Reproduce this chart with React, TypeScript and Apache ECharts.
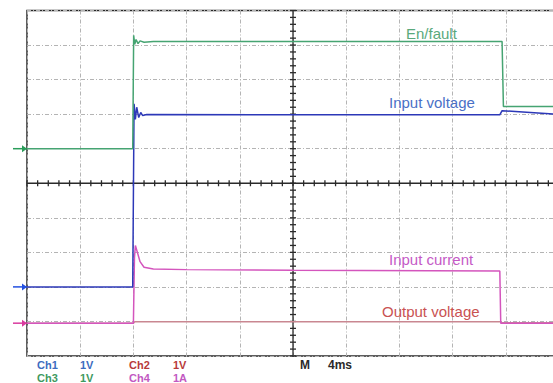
import { useEffect, useRef } from "react";
import * as echarts from "echarts";

// Horizontal time base: 4 ms/div, ten divisions centred on the trigger point
const TIME_MIN = -20;
const TIME_MAX = 20;
const TIME_PER_DIV = 4;
// Vertical graticule: ten divisions, 0 at screen centre
const DIV_MIN = -5;
const DIV_MAX = 5;

// Channel setup: scale per division and ground reference (divisions from centre)
const CH1 = { label: "Ch1", scale: "1V", perDiv: 1, ground: -3.0 };
const CH2 = { label: "Ch2", scale: "1V", perDiv: 1, ground: -4.05 };
const CH3 = { label: "Ch3", scale: "1V", perDiv: 1, ground: 1.0 };
const CH4 = { label: "Ch4", scale: "1A", perDiv: 1, ground: -4.05 };

// Ch3 – En/fault (V)
const EN_FAULT_T = [-20, -12.05, -11.98, -11.9, -11.8, -11.65, -11.5, -11.2, -10.5, 15.72, 15.82, 20];
const EN_FAULT_V = [0, 0, 3.28, 3.02, 3.16, 3.04, 3.12, 3.08, 3.1, 3.1, 1.22, 1.22];

// Ch1 – Input voltage (V)
const INPUT_V_T = [-20, -12.05, -11.95, -11.85, -11.75, -11.6, -11.45, -11.3, -11.0, 0, 15.55, 15.72, 17, 20];
const INPUT_V_V = [0, 0, 5.3, 4.85, 5.2, 4.9, 5.05, 4.96, 4.99, 4.98, 4.98, 5.1, 5.07, 4.99];

// Ch4 – Input current (A)
const INPUT_I_T = [-20, -12.0, -11.92, -11.85, -11.7, -11.5, -11.2, -10.5, -8, 0, 15.55, 15.62, 20];
const INPUT_I_A = [0, 0, 1.9, 2.25, 2.05, 1.78, 1.62, 1.57, 1.55, 1.53, 1.51, 0, 0];

// Ch2 – Output voltage (V)
const OUTPUT_V_T = [-20, -12.0, -11.9, 15.6, 15.7, 20];
const OUTPUT_V_V = [0, 0, 0.04, 0.04, 0.01, 0.01];

const FONT = '"Liberation Sans", Arial, sans-serif';

const COLORS = {
  ch1: "#2c38b8",
  ch2: "#c98791",
  ch3: "#46a472",
  ch4: "#d455bd",
  ch1Text: "#4a70c6",
  ch2Text: "#c95252",
  ch3Text: "#5aa97c",
  ch4Text: "#c55ac6",
  ch1Legend: "#3d6cc0",
  ch2Legend: "#b83a3a",
  ch3Legend: "#3f9a5f",
  ch4Legend: "#c259c2",
  grid: "#b4b4b4",
  frame: "#2a2a2a",
};

type Channel = { perDiv: number; ground: number };

const toScreen = (ch: Channel, t: number[], v: number[]) =>
  t.map((time, i) => [time, ch.ground + v[i] / ch.perDiv]);

function traceSeries(name: string, data: number[][], color: string, z: number) {
  return {
    name,
    type: "line",
    data,
    showSymbol: false,
    smooth: false,
    z,
    lineStyle: { color, width: 1.5 },
    itemStyle: { color },
  };
}

function label(text: string, x: number, y: number, fill: string, size: number, bold = false) {
  return {
    type: "text",
    x,
    y,
    z: 10,
    style: {
      text,
      fill,
      font: `${bold ? "bold " : ""}${size}px ${FONT}`,
      verticalAlign: "middle",
      textVerticalAlign: "middle",
    },
  };
}

export default function App() {
  const ref = useRef<HTMLDivElement>(null);

  useEffect(() => {
    document.body.style.margin = "0";
    if (!ref.current) return;
    const chart = echarts.init(ref.current, undefined, { renderer: "svg" });

    const splitLine = {
      show: true,
      lineStyle: { color: COLORS.grid, width: 1, type: [4, 2, 1, 2] },
    };

    // Centre cross with fine ticks, plus ground markers on the left edge
    const graticule = {
      type: "custom",
      z: 1,
      silent: true,
      clip: false,
      data: [[0, 0]],
      encode: { x: 0, y: 0 },
      renderItem: (_params: any, api: any) => {
        const children: any[] = [];
        const c = api.coord([0, 0]);
        const l = api.coord([TIME_MIN, 0]);
        const r = api.coord([TIME_MAX, 0]);
        const t = api.coord([0, DIV_MAX]);
        const b = api.coord([0, DIV_MIN]);
        const stroke = { stroke: COLORS.frame, lineWidth: 1.3 };
        children.push({ type: "line", shape: { x1: l[0], y1: c[1], x2: r[0], y2: c[1] }, style: stroke });
        children.push({ type: "line", shape: { x1: c[0], y1: t[1], x2: c[0], y2: b[1] }, style: stroke });
        const tickStep = TIME_PER_DIV / 5;
        for (let k = Math.ceil(TIME_MIN / tickStep); k <= Math.floor(TIME_MAX / tickStep); k++) {
          const p = api.coord([k * tickStep, 0]);
          children.push({ type: "line", shape: { x1: p[0], y1: p[1] - 3, x2: p[0], y2: p[1] + 3 }, style: stroke });
        }
        for (let k = DIV_MIN * 5; k <= DIV_MAX * 5; k++) {
          const p = api.coord([0, k / 5]);
          children.push({ type: "line", shape: { x1: p[0] - 3, y1: p[1], x2: p[0] + 3, y2: p[1] }, style: stroke });
        }
        const markers: [number, string][] = [
          [CH3.ground, "#2a9d5a"],
          [CH1.ground, "#2350e0"],
          [CH4.ground, "#d93a9e"],
        ];
        for (const [g, color] of markers) {
          const p = api.coord([TIME_MIN, g]);
          children.push({
            type: "line",
            shape: { x1: p[0] - 14, y1: p[1], x2: p[0], y2: p[1] },
            style: { stroke: color, lineWidth: 1.5 },
          });
          children.push({
            type: "polygon",
            shape: { points: [[p[0] - 5, p[1] - 3.5], [p[0], p[1]], [p[0] - 5, p[1] + 3.5]] },
            style: { fill: color },
          });
        }
        return { type: "group", children };
      },
    };

    chart.setOption({
      animation: false,
      backgroundColor: "#ffffff",
      grid: {
        left: 27,
        top: 10.5,
        width: 532,
        height: 345.5,
        outerBoundsMode: "none",
        containLabel: false,
        show: true,
        borderColor: COLORS.frame,
        borderWidth: 1.5,
        backgroundColor: "transparent",
      },
      xAxis: {
        type: "value",
        min: TIME_MIN,
        max: TIME_MAX,
        interval: TIME_PER_DIV,
        axisLine: { show: false },
        axisTick: { show: false },
        axisLabel: { show: false },
        splitLine,
      },
      yAxis: {
        type: "value",
        min: DIV_MIN,
        max: DIV_MAX,
        interval: 1,
        axisLine: { show: false },
        axisTick: { show: false },
        axisLabel: { show: false },
        splitLine,
      },
      series: [
        graticule,
        traceSeries("Output voltage", toScreen(CH2, OUTPUT_V_T, OUTPUT_V_V), COLORS.ch2, 2),
        traceSeries("Input current", toScreen(CH4, INPUT_I_T, INPUT_I_A), COLORS.ch4, 3),
        traceSeries("Input voltage", toScreen(CH1, INPUT_V_T, INPUT_V_V), COLORS.ch1, 4),
        traceSeries("En/fault", toScreen(CH3, EN_FAULT_T, EN_FAULT_V), COLORS.ch3, 5),
      ],
      graphic: [
        label("En/fault", 406, 33, COLORS.ch3Text, 15),
        label("Input voltage", 389, 102, COLORS.ch1Text, 15),
        label("Input current", 389, 259, COLORS.ch4Text, 15),
        label("Output voltage", 382, 311, COLORS.ch2Text, 15),
        label(CH1.label, 37, 365, COLORS.ch1Legend, 11, true),
        label(CH1.scale, 80, 365, COLORS.ch1Legend, 11, true),
        label(CH2.label, 129, 365, COLORS.ch2Legend, 11, true),
        label(CH2.scale, 173, 365, COLORS.ch2Legend, 11, true),
        label(CH3.label, 37, 378, COLORS.ch3Legend, 11, true),
        label(CH3.scale, 80, 378, COLORS.ch3Legend, 11, true),
        label(CH4.label, 129, 378, COLORS.ch4Legend, 11, true),
        label(CH4.scale, 173, 378, COLORS.ch4Legend, 11, true),
        label("M", 300, 365, "#2a2a2a", 12, true),
        label(`${TIME_PER_DIV}ms`, 328, 365, "#2a2a2a", 12, true),
      ],
    });

    return () => chart.dispose();
  }, []);

  return (
    <div
      ref={ref}
      style={{ position: "absolute", left: 0, top: 0, width: 553, height: 383 }}
    />
  );
}
